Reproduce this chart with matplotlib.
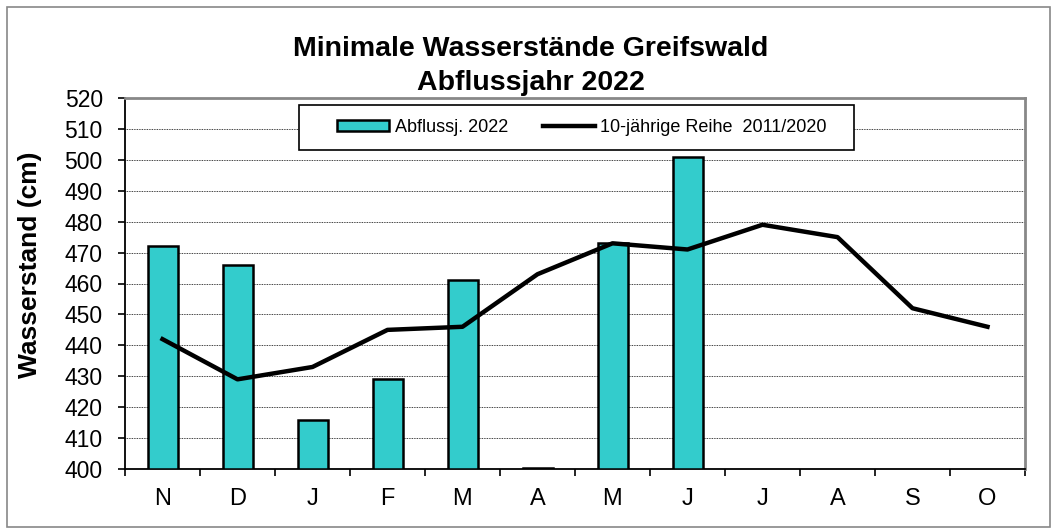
import matplotlib

matplotlib.use("Agg")

import matplotlib.pyplot as plt
import numpy as np
from matplotlib.patches import Rectangle

plt.rcParams["font.family"] = ["Liberation Sans", "DejaVu Sans"]

months = ["N", "D", "J", "F", "M", "A", "M", "J", "J", "A", "S", "O"]
abfluss_2022 = [472, 466, 416, 429, 461, 400.4, 473, 501]
reihe_2011_2020 = [442, 429, 433, 445, 446, 463, 473, 471, 479, 475, 452, 446]

W, H = 1056, 531
fig = plt.figure(figsize=(W / 100, H / 100), dpi=100)
L, R, T, B = 125, 1025, 98, 469
ax = fig.add_axes([L / W, 1 - B / H, (R - L) / W, (B - T) / H])

# outer chart frame
fig.patches.append(Rectangle((7 / W, 4 / H), 1043 / W, 520 / H,
                             transform=fig.transFigure, fill=False,
                             edgecolor="#888888", linewidth=1.2))

x = np.arange(len(months))
bars = ax.bar(x[:len(abfluss_2022)], np.array(abfluss_2022) - 400, bottom=400,
              width=0.4, color="#33CCCC", edgecolor="black", linewidth=1.8,
              label="Abflussj. 2022", zorder=3)
line, = ax.plot(x, reihe_2011_2020, color="black", linewidth=3.2,
                label="10-jährige Reihe  2011/2020", zorder=4)

ax.set_xlim(-0.5, len(months) - 0.5)
ax.set_ylim(400, 520)
ax.set_yticks(np.arange(400, 521, 10))
ax.set_xticks(x)
ax.set_xticklabels(months)
ax.set_xticks(np.arange(-0.5, len(months), 1), minor=True)
ax.tick_params(axis="x", which="major", length=0, pad=14, labelsize=17)
ax.tick_params(axis="x", which="minor", length=5, width=1.2, direction="out")
ax.tick_params(axis="y", length=5, width=1.2, direction="out", labelsize=16.5, pad=11)
ax.yaxis.grid(True, color="black", linestyle=(0, (1, 1)), linewidth=0.6)
ax.set_axisbelow(True)

for side in ["top", "right"]:
    ax.spines[side].set_color("#888888")
    ax.spines[side].set_linewidth(2)
for side in ["left", "bottom"]:
    ax.spines[side].set_color("black")
    ax.spines[side].set_linewidth(1.3)

fig.text(30 / W, 1 - 265 / H, "Wasserstand (cm)", rotation=90,
         ha="center", va="center", fontsize=19, fontweight="bold")

fig.text(531 / W, 1 - 49 / H, "Minimale Wasserstände Greifswald",
         ha="center", va="center", fontsize=20.5, fontweight="bold")
fig.text(531 / W, 1 - 83 / H, "Abflussjahr 2022",
         ha="center", va="center", fontsize=20.5, fontweight="bold")

# legend frame drawn separately (x 299..854, y 105..150 px)
ax.add_patch(Rectangle(((299 - L) / (R - L), 1 - (150 - T) / (B - T)),
                       555 / (R - L), 45 / (B - T), transform=ax.transAxes,
                       facecolor="white", edgecolor="black", linewidth=1.2,
                       zorder=5))
leg = ax.legend([bars, line], ["Abflussj. 2022", "10-jährige Reihe  2011/2020"],
                loc="center", bbox_to_anchor=((582 - L) / (R - L), 1 - (127.5 - T) / (B - T)),
                ncol=2, fontsize=13, frameon=False, borderpad=0, borderaxespad=0,
                handlelength=2.9, handletextpad=0.28, handleheight=0.6,
                columnspacing=1.95)
leg.set_zorder(6)

fig.savefig("out.png", dpi=100)
